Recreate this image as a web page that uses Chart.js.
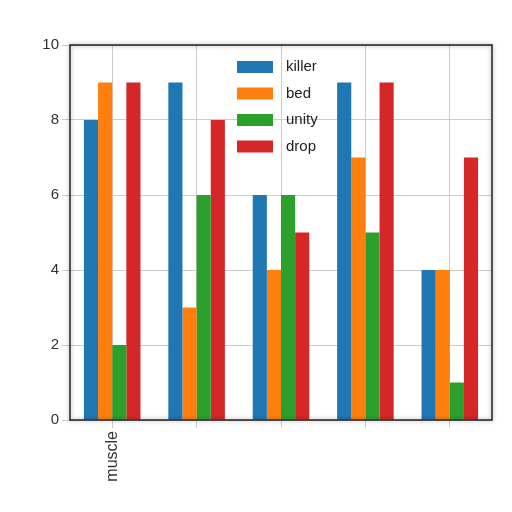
<!DOCTYPE html>
<html><head><script src="https://cdn.jsdelivr.net/npm/chart.js"></script>
<style>body{margin:0;background:#fff}#w{width:512px;height:512px}</style></head>
<body><div id="w"><canvas id="c"></canvas></div>
<script>
const categories=["muscle","","","",""];
const killer=[8,9,6,9,4];
const bed=[9,3,4,7,4];
const unity=[2,6,6,5,1];
const drop=[9,8,5,9,7];
const yTicks=[0,2,4,6,8,10];
const frame={id:'frame',afterDraw(ch){const a=ch.chartArea,x=ch.ctx;x.save();x.strokeStyle='#222';x.lineWidth=1.5;x.shadowColor='rgba(0,0,0,0.4)';x.shadowBlur=4;x.strokeRect(a.left,a.top,a.right-a.left,a.bottom-a.top);x.restore();
x.save();x.font='15px "Liberation Sans"';x.textBaseline='middle';
ch.data.datasets.forEach((d,i)=>{const y=a.top+22+i*26.5;x.fillStyle=d.backgroundColor;x.fillRect(a.left+167,y-6,36,12);x.fillStyle='#222';x.fillText(d.label,a.left+216,y);});x.restore();}};
new Chart(document.getElementById('c'),{type:'bar',
data:{labels:categories,datasets:[
{label:'killer',data:killer,backgroundColor:'#1f77b4'},
{label:'bed',data:bed,backgroundColor:'#ff7f0e'},
{label:'unity',data:unity,backgroundColor:'#2ca02c'},
{label:'drop',data:drop,backgroundColor:'#d62728'}]},
options:{responsive:true,maintainAspectRatio:false,animation:false,
layout:{padding:{top:45,right:20,bottom:0,left:10}},
datasets:{bar:{categoryPercentage:0.67,barPercentage:1}},
plugins:{legend:{display:false},tooltip:{enabled:false}},
scales:{x:{grid:{color:'#ccc',offset:false},border:{display:false},ticks:{maxRotation:90,minRotation:90,font:{family:'Liberation Sans',size:16},color:'#333'},afterFit(s){s.height=92}},
y:{min:0,max:10,afterBuildTicks(s){s.ticks=yTicks.map(v=>({value:v}))},grid:{color:'#ccc'},border:{display:false},ticks:{font:{family:'Liberation Sans',size:15},color:'#333'},afterFit(s){s.width=60}}}},
plugins:[frame]});
</script></body></html>
